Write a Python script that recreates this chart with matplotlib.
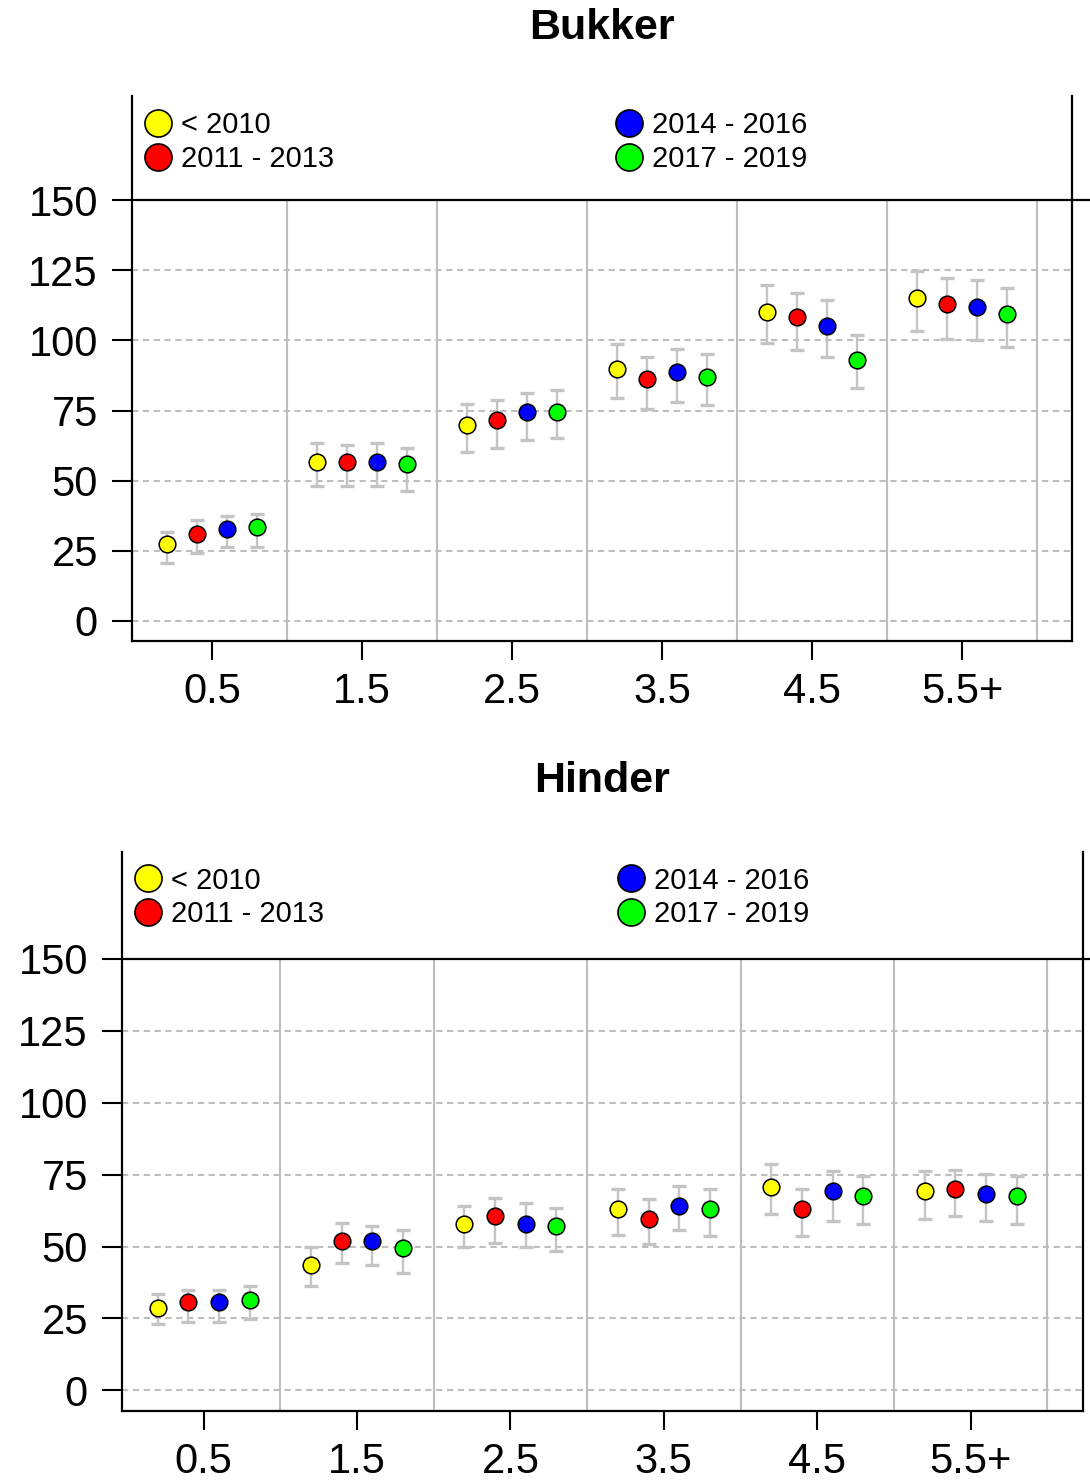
import numpy as np
import matplotlib
matplotlib.use("Agg")
import matplotlib.pyplot as plt
from matplotlib.lines import Line2D
import matplotlib.transforms as mtransforms

plt.rcParams['font.family'] = ['Liberation Sans', 'DejaVu Sans']

# ---------------- data ----------------
categories = ['0.5', '1.5', '2.5', '3.5', '4.5', '5.5+']
series_labels = ['< 2010', '2011 - 2013', '2014 - 2016', '2017 - 2019']
series_colors = ['#FFFF00', '#FF0000', '#0000FF', '#00FF00']
y_ticks = [0, 25, 50, 75, 100, 125, 150]

# Bukker (rows = series, cols = categories)
bukker_mean = [[27.5, 56.6, 70.0, 89.9, 110.2, 115.1],
               [31.0, 56.6, 71.8, 86.3, 108.4, 112.9],
               [32.8, 56.6, 74.4, 88.9, 105.1, 111.9],
               [33.4, 55.8, 74.4, 87.1, 93.1, 109.4]]
bukker_hi = [[31.8, 63.3, 77.4, 98.6, 119.9, 124.7],
             [36.1, 62.7, 78.9, 94.2, 117.0, 122.4],
             [37.4, 63.3, 81.3, 97.0, 114.6, 121.4],
             [38.2, 61.5, 82.2, 95.1, 101.9, 118.7]]
bukker_lo = [[20.8, 48.1, 60.2, 79.6, 99.2, 103.4],
             [24.3, 48.1, 61.8, 75.4, 96.6, 100.7],
             [26.2, 48.1, 64.4, 77.9, 94.0, 100.1],
             [26.2, 46.4, 65.1, 77.1, 83.0, 97.6]]

# Hinder
hinder_mean = [[28.7, 43.4, 57.9, 63.1, 70.7, 69.2],
               [30.6, 52.0, 60.5, 59.7, 63.0, 70.0],
               [30.6, 52.0, 57.8, 64.0, 69.2, 68.3],
               [31.4, 49.4, 57.0, 63.1, 67.4, 67.4]]
hinder_hi = [[33.5, 49.9, 64.2, 70.0, 78.7, 76.2],
             [34.9, 58.3, 66.9, 66.6, 70.0, 76.7],
             [34.9, 57.3, 65.1, 71.2, 76.2, 75.2],
             [36.3, 55.6, 63.4, 70.0, 74.4, 74.4]]
hinder_lo = [[22.9, 36.1, 49.8, 53.9, 61.4, 59.7],
             [23.8, 44.2, 51.2, 50.9, 53.7, 60.5],
             [23.8, 43.4, 49.7, 55.6, 59.0, 59.0],
             [24.8, 40.9, 48.5, 53.8, 57.9, 57.9]]

# ---------------- figure ----------------
W, H = 1090, 1484
fig = plt.figure(figsize=(W / 100, H / 100), dpi=100)

def px_axes(l, t, r, b):
    return fig.add_axes([l / W, 1 - b / H, (r - l) / W, (b - t) / H])

ax1 = px_axes(132, 96, 1072, 641)
ax2 = px_axes(122, 852, 1083, 1411)

YLIM = (-7.2, 187.2)
XLIM = (-0.032, 6.232)
offsets = [-0.3, -0.1, 0.1, 0.3]
grid_col = '#BEBEBE'
err_col = '#C4C4C4'


def draw_panel(ax, mean, lo, hi, title, title_y, leg1_anchor, leg2_anchor):
    n = len(categories)
    centers = np.arange(n) + 0.5
    ax.set_xlim(*XLIM)
    ax.set_ylim(*YLIM)

    # horizontal dashed grid (below 150)
    for yv in y_ticks[:-1]:
        ax.axhline(yv, color=grid_col, lw=1.5, ls=(0, (3, 2.2)), zorder=1)
    # vertical group separators up to 150
    ax.vlines(np.arange(1, n + 1), YLIM[0], y_ticks[-1], color=grid_col, lw=1.5, zorder=1)
    # line at 150 extending past the right border
    trans = mtransforms.blended_transform_factory(ax.transAxes, ax.transData)
    ax.plot([0, 1.1], [y_ticks[-1], y_ticks[-1]], color='black', lw=1.6,
            transform=trans, clip_on=False, zorder=3)

    for s in range(len(series_labels)):
        x = centers + offsets[s]
        m = np.array(mean[s])
        l = np.array(lo[s])
        h = np.array(hi[s])
        ax.errorbar(x, m, yerr=[m - l, h - m], fmt='none', ecolor=err_col,
                    elinewidth=1.7, capsize=4.7, capthick=2.4, zorder=4)
        ax.plot(x, m, 'o', ms=12, mfc=series_colors[s], mec='black', mew=1.1,
                zorder=5, ls='none')

    ax.set_xticks(centers)
    ax.set_xticklabels(categories)
    ax.set_yticks(y_ticks)
    ax.tick_params(axis='x', length=14, width=1.5, pad=8, labelsize=30)
    ax.tick_params(axis='y', length=14.5, width=1.5, pad=10, labelsize=30)
    ax.spines['top'].set_visible(False)
    for sp in ['left', 'right', 'bottom']:
        ax.spines[sp].set_linewidth(1.6)

    handles = [Line2D([], [], marker='o', ls='none', ms=19.5, mfc=c, mec='black', mew=1.2)
               for c in series_colors]
    kw = dict(frameon=False, fontsize=21, handlelength=1.0, handletextpad=0.3,
              labelspacing=0.2, borderpad=0, borderaxespad=0, loc='center left')
    lg1 = ax.legend(handles[:2], series_labels[:2], bbox_to_anchor=leg1_anchor, **kw)
    ax.add_artist(lg1)
    ax.legend(handles[2:], series_labels[2:], bbox_to_anchor=leg2_anchor, **kw)

    fig.text(0.552, title_y, title, ha='center', va='center', fontsize=31,
             fontweight='bold')


draw_panel(ax1, bukker_mean, bukker_lo, bukker_hi, 'Bukker', 1 - 28 / H,
           (0.0122, 0.9156), (0.513, 0.9156))
draw_panel(ax2, hinder_mean, hinder_lo, hinder_hi, 'Hinder', 1 - 781 / H,
           (0.012, 0.9186), (0.5146, 0.9186))

fig.savefig('out.png', dpi=100)
